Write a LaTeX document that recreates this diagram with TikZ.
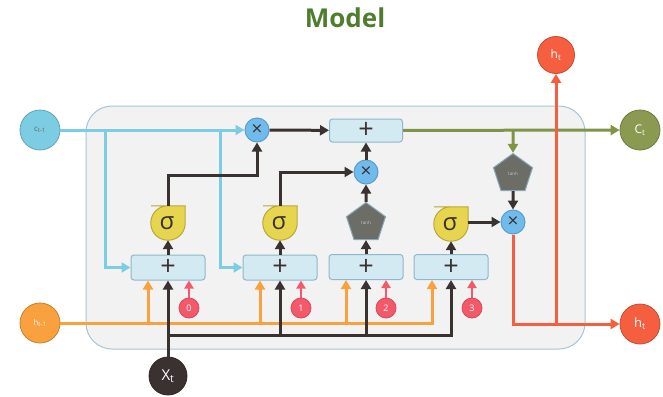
\documentclass[tikz,border=0pt]{standalone}
\usepackage{fontspec}
\setmainfont{Open Sans}
\usetikzlibrary{arrows.meta,shapes.geometric}
\definecolor{cyanl}{HTML}{7CCDE3}
\definecolor{oran}{HTML}{F9A03F}
\definecolor{redh}{HTML}{F55F3F}
\definecolor{olivec}{HTML}{8A9A50}
\definecolor{olivel}{HTML}{7F9445}
\definecolor{dark}{HTML}{3A3230}
\definecolor{boxf}{HTML}{D3EAF2}
\definecolor{boxb}{HTML}{8EB8CC}
\definecolor{multf}{HTML}{70BBEB}
\definecolor{multb}{HTML}{5A9FCC}
\definecolor{tanhf}{HTML}{6D6D67}
\definecolor{tanhb}{HTML}{8AA8B8}
\definecolor{tanht}{HTML}{C8C8C8}
\definecolor{sigf}{HTML}{E8D54F}
\definecolor{sigb}{HTML}{B8A838}
\definecolor{biasf}{HTML}{F25A6A}
\definecolor{biasb}{HTML}{D84858}
\definecolor{cellf}{HTML}{F2F2F2}
\definecolor{cellb}{HTML}{A8C4D6}
\definecolor{titlec}{HTML}{4E7D2D}
\begin{document}
\begin{tikzpicture}[x=1pt,y=-1pt,
  every node/.style={inner sep=0pt},
  ln/.style={line width=3pt},
  arr/.style={ln,-{Triangle[length=9pt,width=10pt]}},
  barr/.style={line width=2.8pt,-{Triangle[length=8pt,width=9pt]}},
  io/.style={circle,minimum size=40pt,draw=#1!80!black,line width=0.8pt,fill=#1},
  plusbox/.style={draw=boxb,fill=boxf,rounded corners=3pt,line width=1pt,minimum width=74pt,minimum height=25pt,font=\fontsize{27}{27}\selectfont,text=dark},
  mult/.style={circle,draw=multb,fill=multf,line width=1pt,minimum size=24pt,font=\fontsize{19}{19}\selectfont,text=dark},
  tanhs/.style={regular polygon,regular polygon sides=5,minimum size=41pt,fill=tanhf,draw=tanhb,line width=1pt,font=\fontsize{4.5}{5}\selectfont,text=tanht},
  sigc/.style={minimum size=34pt},
  sigd/.style={fill=sigf,draw=sigb,line width=1pt},
  bias/.style={circle,fill=biasf,draw=biasb,line width=0.8pt,minimum size=20pt,text=white,font=\fontsize{9}{9}\selectfont}
]
\useasboundingbox (0,0) rectangle (663,396);
% container
\node[draw=cellb,fill=cellf,line width=1pt,rounded corners=26pt,minimum width=499pt,minimum height=243pt] (cell) at (335.5,227.5) {};
\node[font=\bfseries\fontsize{26}{26}\selectfont,text=titlec] (title) at (345,18) {Model};
% inputs / outputs
\node[io=cyanl,text=black!60,font=\fontsize{8}{8}\selectfont] (cprev) at (40,130) {c\textsubscript{t-1}};
\node[io=olivec,text=white,font=\fontsize{12}{12}\selectfont] (cnext) at (640,130) {C\textsubscript{t}};
\node[io=redh,minimum size=37pt,text=white,font=\fontsize{12}{12}\selectfont] (htop) at (556,55) {h\textsubscript{t}};
\node[io=redh,text=white,font=\fontsize{13}{13}\selectfont] (hout) at (640,324) {h\textsubscript{t}};
\node[io=oran,text=white,font=\fontsize{8}{8}\selectfont] (hprev) at (40,323) {h\textsubscript{t-1}};
\node[io=dark,minimum size=38pt,text=white,font=\fontsize{15}{15}\selectfont] (xt) at (168,376) {X\textsubscript{t}};
% plus boxes
\node[plusbox] (b1) at (168,267.5) {+};
\node[plusbox] (b2) at (280,267.5) {+};
\node[plusbox] (b3) at (366,267) {+};
\node[plusbox] (b4) at (451,267) {+};
\node[plusbox,minimum width=73pt,minimum height=23pt] (bb) at (366,130.5) {+};
% multiply
\node[mult] (m1) at (257,130) {×};
\node[mult] (m2) at (366,172) {×};
\node[mult] (m3) at (513,222) {×};
% tanh
\node[tanhs] (t1) at (366,223) {tanh};
\node[tanhs] (t2) at (513,174) {tanh};
% bias
\node[bias] (z0) at (189,308) {0};
\node[bias] (z1) at (301,308) {1};
\node[bias] (z2) at (386,308) {2};
\node[bias] (z3) at (472,308) {3};
% sigma gates
\node[sigc] (s1) at (168,223) {};
\node[sigc] (s2) at (280,223) {};
\node[sigc] (s3) at (451,224) {};
\foreach \s in {s1,s2,s3}{
  \draw[sigd] (\s.north) -- (\s.north east) [rounded corners=17pt] -- (\s.south east) -- (\s.south west) -- (\s.north west) -- cycle;
  \node[font=\fontsize{24}{24}\selectfont,text=dark] (\s-txt) at ([xshift=-1pt]\s) {σ};
}
% cell state input (blue)
\coordinate (cb1) at (105,130);
\coordinate (cb2) at (220,130);
\draw[arr,cyanl] (cprev) -- (m1);
\draw[arr,cyanl] (cb1) |- (b1.west);
\draw[arr,cyanl] (cb2) |- (b2.west);
% h_{t-1} (orange)
\coordinate (ob1) at ([xshift=-20pt]b1.south);
\coordinate (ob2) at ([xshift=-20pt]b2.south);
\coordinate (ob3) at ([xshift=-20pt]b3.south);
\coordinate (ob4) at ([xshift=-19pt]b4.south);
\draw[arr,oran] (hprev) -| (ob4);
\draw[arr,oran] (ob1 |- hprev) -- (ob1);
\draw[arr,oran] (ob2 |- hprev) -- (ob2);
\draw[arr,oran] (ob3 |- hprev) -- (ob3);
% x_t (dark)
\coordinate (kb) at (168,335);
\draw[arr,dark] (xt) -- (b1);
\draw[arr,dark] (kb) -| (b4.south);
\draw[arr,dark] (b2 |- kb) -- (b2.south);
\draw[arr,dark] (b3 |- kb) -- (b3.south);
% biases
\draw[barr,biasf] (z0) -- (z0 |- b1.south);
\draw[barr,biasf] (z1) -- (z1 |- b2.south);
\draw[barr,biasf] (z2) -- (z2 |- b3.south);
\draw[barr,biasf] (z3) -- (z3 |- b4.south);
% gates
\draw[arr,dark] (b1) -- (s1);
\draw[arr,dark] (b2) -- (s2);
\draw[arr,dark] (b3) -- (t1);
\draw[arr,dark] (b4) -- (s3);
\coordinate (k1) at (168,175);
\coordinate (k2) at (280,172);
\draw[arr,dark] (s1.north) -- (k1) -| (m1.south);
\draw[arr,dark] (s2.north) -- (k2) -- (m2.west);
\draw[arr,dark] (t1) -- (m2);
\draw[arr,dark] (m2) -- (bb);
\draw[arr,dark] (m1) -- (bb);
\draw[arr,dark] (s3.east |- m3) -- (m3.west);
\draw[arr,dark] (t2) -- (m3);
% cell state output (olive)
\draw[arr,olivel] (bb) -- (cnext);
\draw[arr,olivel] (t2 |- bb) -- (t2);
% hidden output (red)
\draw[arr,redh] (m3) -- (m3 |- hout) -- (hout);
\draw[arr,redh] (htop |- hout) -- (htop);
\end{tikzpicture}
\end{document}
